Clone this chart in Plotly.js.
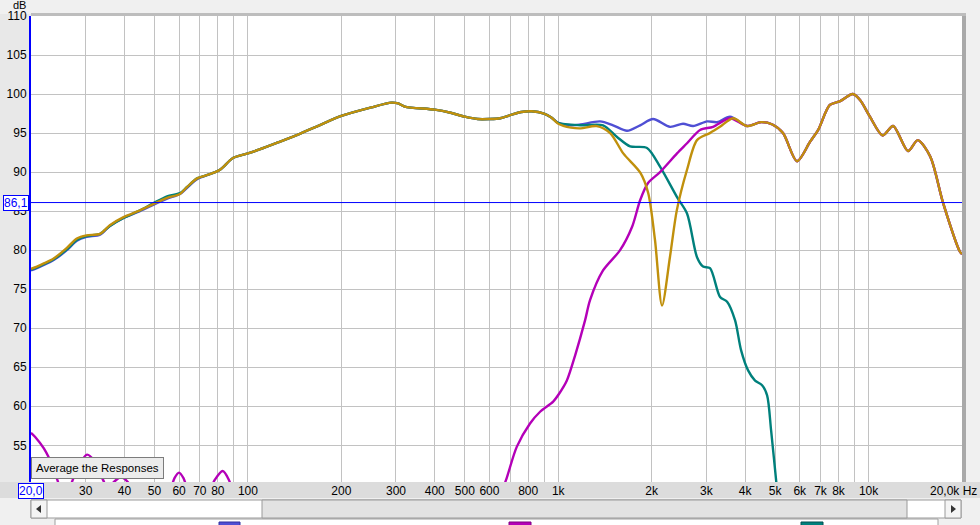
<!DOCTYPE html>
<html>
<head>
<meta charset="utf-8">
<script src="https://cdn.plot.ly/plotly-3.0.1.min.js"></script>
<style>html,body{margin:0;padding:0;background:#f0f0f0;}#chart{width:980px;height:525px;}</style>
</head>
<body>
<div id="chart"></div>
<script>
// ---- data (frequency in Hz, level in dB) ----
const goldFreq = [20,20.9,22,23.6,26.1,28.1,30.2,33.4,35.9,39.6,44.9,49.5,54.9,60.4,63.7,68.6,75,81.3,89.5,100,109,125,147,170,200,250,290,305,320,400,450,500,550,600,650,700,760,820,900,950,1000,1100,1180,1330,1470,1620,1840,1950,2050,2160,2290,2410,2600,2800,3080,3320,3660,4060,4500,4900,5300,5880,6480,6880,7500,8100,8900,9400,10100,11100,12000,13400,14400,15800,17400,19700,20000];
const goldDb   = [77.6,77.9,78.3,78.9,80.3,81.5,81.9,82.1,83.2,84.2,85.1,85.9,86.7,87.2,88.1,89.2,89.7,90.3,91.8,92.4,92.9,93.8,94.9,96.0,97.2,98.3,98.9,98.8,98.4,98.0,97.6,97.1,96.8,96.8,96.9,97.3,97.7,97.8,97.5,97.0,96.2,95.7,95.6,95.9,95.0,92.4,89.9,87.3,81.3,72.9,79.1,85.1,90.3,94.1,95.0,95.8,96.9,95.9,96.4,96.1,95.0,91.4,93.9,95.4,98.6,99.1,100.0,99.2,97.1,94.7,95.9,92.7,94.1,92.0,86.0,79.8,79.5];

const blueFreq = [20,20.9,22,23.6,26.1,28.1,30.2,33.4,35.9,39.6,44.9,49.5,54.9,60.4,63.7,68.6,75,81.3,89.5,100,109,125,147,170,200,250,290,305,320,400,450,500,550,600,650,700,760,820,900,950,1000,1100,1180,1364,1502,1666,1836,2021,2293,2524,2720,3017,3250,3578,4060,4500,4900,5300,5880,6480,6880,7500,8100,8900,9400,10100,11100,12000,13400,14400,15800,17400,19700,20000];
const blueDb   = [77.4,77.7,78.1,78.7,80.0,81.2,81.7,82.0,83.1,84.1,85.0,85.8,86.6,87.2,88.0,89.1,89.7,90.3,91.8,92.4,92.9,93.8,94.9,96.0,97.2,98.3,98.9,98.8,98.4,98.0,97.6,97.1,96.8,96.8,96.9,97.3,97.7,97.8,97.5,97.0,96.3,96.0,96.1,96.5,96.0,95.3,96.0,96.8,95.8,96.2,95.9,96.5,96.4,97.1,95.9,96.4,96.1,95.0,91.4,93.9,95.4,98.6,99.1,100.0,99.2,97.1,94.7,95.9,92.7,94.1,92.0,86.0,79.8,79.5];

const tealFreq = [20,20.9,22,23.6,26.1,28.1,30.2,33.4,35.9,39.6,44.9,49.5,54.9,60.4,63.7,68.6,75,81.3,89.5,100,109,125,147,170,200,250,290,305,320,400,450,500,550,600,650,700,760,820,900,950,1000,1180,1394,1547,1704,1932,2128,2414,2600,2800,2928,3084,3322,3500,3714,3882,4090,4308,4538,4710,4852,5036,5300];
const tealDb   = [77.5,77.8,78.2,78.8,80.1,81.3,81.8,82.1,83.1,84.1,85.1,86.0,86.9,87.3,88.1,89.2,89.7,90.3,91.8,92.4,92.9,93.8,94.9,96.0,97.2,98.3,98.9,98.8,98.4,98.0,97.6,97.1,96.8,96.8,96.9,97.3,97.7,97.8,97.5,97.0,96.3,96.0,96.0,94.5,93.3,93.1,90.7,86.8,84.7,79.1,77.9,77.7,74.0,73.4,71.0,67.2,64.6,63.3,62.7,61.4,56.9,50.5,42.0];

const magentaFreq = [20,20.6,22,23.5,24.3,25.5,26.5,27.1,28.5,30.3,32,34.1,35.5,37,39,41,44,50,55,58,60,62,66,72,78,83,87,95,120,200,400,560,620,678,735,811,874,963,1010,1066,1133,1220,1266,1394,1582,1730,1836,1947,2128,2414,2600,2864,3154,3578,4060,4500,4900,5300,5880,6480,6880,7500,8100,8900,9400,10100,11100,12000,13400,14400,15800,17400,19700,20000];
const magentaDb   = [56.6,56.1,54.6,52.3,50.6,48.5,49.2,50.3,52.4,53.8,53.0,50.6,49.4,50.3,50.9,50.3,47.5,45.5,48.0,50.8,51.5,50.8,48.0,47.5,50.5,51.7,50.5,46.0,40.0,35.0,36.0,42.0,46.5,50.5,54.8,57.8,59.3,60.6,61.7,63.3,66.5,71.0,73.6,77.4,80.0,83.0,86.4,88.6,90.0,92.4,93.7,95.4,95.8,96.9,95.9,96.4,96.1,95.0,91.4,93.9,95.4,98.6,99.1,100.0,99.2,97.1,94.7,95.9,92.7,94.1,92.0,86.0,79.8,79.5];

const xTickVals = [30,40,50,60,70,80,90,100,200,300,400,500,600,700,800,900,1000,2000,3000,4000,5000,6000,7000,8000,9000,10000];
const xTickText = ['30','40','50','60','70','80','','100','200','300','400','500','600','','800','','1k','2k','3k','4k','5k','6k','7k','8k','','10k'];
const yTickVals = [55,60,65,70,75,80,85,90,95,100,105,110];
const yTickText = ['55','60','65','70','75','80','85','90','95','100','105','110'];
const cursorLevel = 86.1;
const cursorLevelText = '86,1';
const startFreqText = '20,0';
const endFreqText = '20,0k Hz';

// ---- geometry helpers (pixel -> paper) ----
const L = 31, R = 962, T = 16, B = 482;
const px = x => (x - L) / (R - L);
const py = y => (B - y) / (B - T);

const font = 'Liberation Sans, Arial, sans-serif';
const lw = 2.4;
const mk = (x, y, c) => ({x, y, type: 'scatter', mode: 'lines', line: {color: c, width: lw, shape: 'spline', smoothing: 0.8}, hoverinfo: 'skip'});

const traces = [
  mk(blueFreq, blueDb, '#4f4fd4'),
  mk(tealFreq, tealDb, '#00807c'),
  mk(magentaFreq, magentaDb, '#b400b8'),
  mk(goldFreq, goldDb, '#c0900c')
];

const rect = (x0, y0, x1, y1, fill, line, lwid) => ({type: 'rect', xref: 'paper', yref: 'paper', layer: 'below',
  x0: px(x0), x1: px(x1), y0: py(y1), y1: py(y0), fillcolor: fill, line: {color: line || fill, width: lwid === undefined ? 0 : lwid}});

const shapes = [
  rect(0, 14, 31, 482, '#e8e8e8'),
  rect(0, 482, 980, 498, '#dcdcdc'),
  rect(962, 13, 966, 482, '#a9a9a9'),
  rect(31, 13, 966, 16, '#bdbdbd'),
  // scrollbar
  rect(31, 500, 961, 518, '#ffffff', '#9a9a9a', 1),
  rect(262, 500, 907, 518, '#e2e2e2', '#9a9a9a', 1),
  rect(31, 500, 47, 518, '#f4f4f4', '#9a9a9a', 1),
  rect(945, 500, 961, 518, '#f4f4f4', '#9a9a9a', 1),
  {type: 'path', xref: 'paper', yref: 'paper', layer: 'below', fillcolor: '#333', line: {width: 0},
   path: `M ${px(36)} ${py(509)} L ${px(41)} ${py(505)} L ${px(41)} ${py(513)} Z`},
  {type: 'path', xref: 'paper', yref: 'paper', layer: 'below', fillcolor: '#333', line: {width: 0},
   path: `M ${px(956)} ${py(509)} L ${px(951)} ${py(505)} L ${px(951)} ${py(513)} Z`},
  // legend strip
  rect(55, 519, 938, 532, '#ffffff', '#a0a0a0', 1),
  rect(219, 522, 240, 532, '#4f4fd4', '#3030a0', 1),
  rect(509, 522, 531, 532, '#b400b8', '#800080', 1),
  rect(801, 522, 823, 532, '#00807c', '#005050', 1),
  // cursor line
  {type: 'line', xref: 'paper', yref: 'y', x0: 0, x1: 1, y0: cursorLevel, y1: cursorLevel, line: {color: '#0000ff', width: 1}, layer: 'above'}
];

const ann = (o) => Object.assign({xref: 'paper', yref: 'paper', showarrow: false, xanchor: 'center', yanchor: 'middle'}, o);
const annotations = [
  ann({text: 'dB', x: px(19), y: py(5.5), font: {family: font, size: 11, color: '#000'}}),
  ann({text: cursorLevelText, yref: 'y', x: px(15.5), y: cursorLevel,
   font: {family: font, size: 12, color: '#0000ff'}, bgcolor: '#ffffff', bordercolor: '#0000ff', borderwidth: 1, borderpad: 0}),
  ann({text: startFreqText, x: px(31), y: py(490.5),
   font: {family: font, size: 12, color: '#0000ff'}, bgcolor: '#ffffff', bordercolor: '#0000ff', borderwidth: 1, borderpad: 0}),
  ann({text: endFreqText, x: px(979), xanchor: 'right', y: py(490.5), font: {family: font, size: 12, color: '#000'}}),
  ann({text: 'Average the Responses', x: px(97), y: py(467.5),
   font: {family: font, size: 11.5, color: '#000'}, bgcolor: '#ececec', bordercolor: '#7c7c7c', borderwidth: 1, borderpad: 4})
];

const layout = {
  width: 980, height: 525,
  margin: {l: L, r: 980 - R, t: T, b: 525 - B},
  paper_bgcolor: '#f0f0f0', plot_bgcolor: '#ffffff',
  showlegend: false,
  xaxis: {type: 'log', range: [Math.log10(20), Math.log10(20000)], tickvals: xTickVals, ticktext: xTickText,
    showgrid: true, gridcolor: '#c2c2c2', gridwidth: 1, ticks: '', zeroline: false, showline: false,
    tickfont: {family: font, size: 12, color: '#000'}, fixedrange: true},
  yaxis: {range: [50.3, 110], tickvals: yTickVals, ticktext: yTickText, showgrid: true, gridcolor: '#c2c2c2', gridwidth: 1,
    ticks: '', zeroline: false, showline: true, linecolor: '#0000ff', linewidth: 2,
    tickfont: {family: font, size: 12, color: '#000'}, fixedrange: true},
  shapes, annotations
};

Plotly.newPlot('chart', traces, layout, {staticPlot: true, displayModeBar: false});
</script>
</body>
</html>
